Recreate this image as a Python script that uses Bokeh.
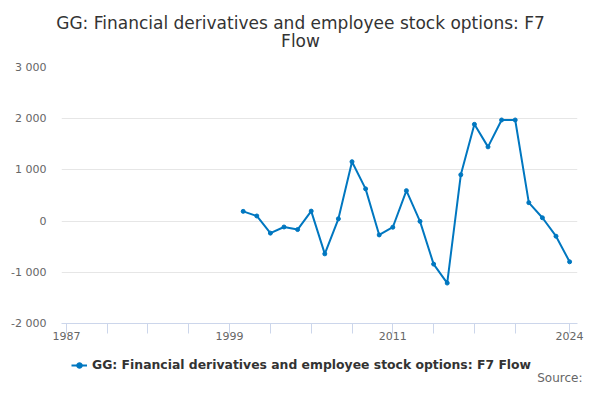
from bokeh.plotting import figure
from bokeh.layouts import column
from bokeh.models import Legend, LegendItem, FixedTicker, Range1d
from bokeh.core.properties import value
from bokeh.embed import file_html
from bokeh.resources import INLINE

title_lines = ["GG: Financial derivatives and employee stock options: F7", "Flow"]
series_name = "GG: Financial derivatives and employee stock options: F7 Flow"
source_text = "Source:"

years = list(range(2000, 2025))
values = [190, 100, -235, -115, -165, 195, -640, 45, 1160, 630, -270, -120, 595,
          -5, -840, -1210, 905, 1890, 1450, 1975, 1975, 360, 65, -295, -795]

x_ticks = [1987, 1990, 1993, 1996, 1999, 2002, 2005, 2008, 2011, 2014, 2017, 2020, 2024]
x_labels = {1987: "1987", 1999: "1999", 2011: "2011", 2024: "2024"}
y_ticks = [-2000, -1000, 0, 1000, 2000, 3000]
y_labels = ["-2 000", "-1 000", "0", "1 000", "2 000", "3 000"]

FONT = "DejaVu Sans"
W = 584
HEAD_H, MAIN_H, FOOT_H = 58, 294, 32
line_color = "#0077c0"


def blank(h):
    f = figure(width=W, height=h, output_backend="svg", toolbar_location=None,
               x_range=Range1d(0, W), y_range=Range1d(h, 0),
               x_axis_type=None, y_axis_type=None,
               min_border=0, min_border_left=0, min_border_right=0,
               min_border_top=0, min_border_bottom=0)
    f.frame_align = False
    f.outline_line_color = None
    f.xgrid.visible = False
    f.ygrid.visible = False
    return f


# header with the two title lines
head = blank(HEAD_H)
head.text(x=[300, 300], y=[22, 40], text=title_lines, text_align="center",
          text_baseline="middle", text_font=value(FONT), text_font_size="17px",
          text_color="#333333")

# main chart
p = figure(width=W, height=MAIN_H, output_backend="svg", toolbar_location=None,
           x_range=Range1d(1986.64, 2024.58), y_range=Range1d(-2000, 3000),
           min_border_left=61, min_border_right=7, min_border_top=9, min_border_bottom=29)
p.frame_align = False
p.outline_line_color = None

p.line(years, values, line_color=line_color, line_width=2)
p.scatter(years, values, size=4, fill_color=line_color, line_color=line_color)

p.xgrid.grid_line_color = None
p.ygrid.grid_line_color = "#e6e6e6"
p.ygrid.ticker = FixedTicker(ticks=y_ticks)

xa = p.xaxis[0]
xa.ticker = FixedTicker(ticks=x_ticks)
xa.major_label_overrides = {t: x_labels.get(t, "") for t in x_ticks}
xa.axis_line_color = "#ccd6eb"
xa.major_tick_line_color = "#ccd6eb"
xa.major_tick_in = 0
xa.major_tick_out = 10
xa.minor_tick_line_color = None
xa.major_label_standoff = -2
xa.major_label_text_font = FONT
xa.major_label_text_font_size = "11px"
xa.major_label_text_color = "#666666"

ya = p.yaxis[0]
ya.ticker = FixedTicker(ticks=y_ticks)
ya.major_label_overrides = {t: l for t, l in zip(y_ticks, y_labels)}
ya.axis_line_color = None
ya.major_tick_line_color = None
ya.minor_tick_line_color = None
ya.major_tick_in = 0
ya.major_tick_out = 0
ya.major_label_standoff = 15
ya.major_label_text_font = FONT
ya.major_label_text_font_size = "11px"
ya.major_label_text_color = "#666666"

# footer with legend and source (legend key renderers sit outside the visible range)
foot = blank(FOOT_H)
k1 = foot.line(x=years[:2], y=values[:2], line_color=line_color, line_width=2)
k2 = foot.scatter(x=years[:1], y=values[:1], size=4, fill_color=line_color, line_color=line_color)
legend = Legend(items=[LegendItem(label=series_name, renderers=[k1, k2])],
                location=(71, 12), orientation="horizontal",
                label_text_font=FONT, label_text_font_size="12.4px",
                label_text_font_style="bold", label_text_color="#333333",
                border_line_color=None, background_fill_alpha=0,
                glyph_width=16, glyph_height=14, label_height=14,
                padding=0, margin=0, spacing=0)
foot.add_layout(legend, "center")
foot.text(x=[582], y=[25], text=[source_text], text_align="right",
          text_baseline="middle", text_font=value(FONT), text_font_size="12px",
          text_color="#666666")

layout = column(head, p, foot, spacing=0)
open("out.html", "w").write(file_html(layout, INLINE))
